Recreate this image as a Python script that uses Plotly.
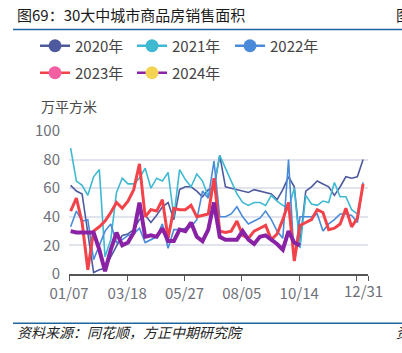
import pandas as pd
import plotly.graph_objects as go

# ---------------- data ----------------
week_dates = pd.date_range("2024-01-09", periods=52, freq="7D")

s2020 = [62, 58, 56, 30, 1, 3, 4, 12, 20, 27, 28, 31, 38, 41, 36, 41, 47, 50, 38, 59,
         61, 61, 58, 54, 59, 60, 83, 61, 60, 59, 58, 57, 59, 58, 57, 56, 52, 59, 68, 61,
         22, 58, 61, 65, 63, 61, 55, 61, 68, 67, 68, 80]
s2021 = [88, 65, 62, 55, 68, 73, 12, 24, 57, 67, 63, 63, 67, 74, 60, 67, 65, 71, 40, 73,
         66, 61, 70, 65, 54, 62, 83, 74, 65, 56, 50, 48, 50, 50, 48, 55, 51, 48, 46, 60,
         18, 55, 49, 48, 51, 50, 64, 54, 54, 45, 42, 62]
s2022 = [33, 44, 37, 38, 10, 20, 30, 35, 22, 24, 27, 28, 32, 22, 24, 26, 35, 18, 31, 31,
         32, 33, 38, 58, 53, 79, 40, 40, 42, 47, 40, 35, 37, 39, 44, 38, 30, 25, 80, 10,
         40, 40, 40, 42, 30, 35, 38, 42, 42, 41, 36, 64]
s2023 = [44, 53, 36, 3, 30, 33, 37, 43, 50, 46, 51, 59, 77, 40, 45, 44, 52, 25, 46, 45,
         45, 48, 40, 41, 42, 67, 30, 29, 30, 37, 27, 25, 30, 32, 34, 24, 28, 38, 50, 9,
         34, 36, 38, 45, 43, 31, 32, 35, 46, 33, 39, 63]
s2024 = [30, 29, 29, 29, 29, 17, 2, 17, 29, 20, 22, 29, 50, 26, 27, 26, 32, 23, 23, 31,
         30, 36, 26, 23, 31, 50, 26, 24, 24, 24, 30, 24, 21, 26, 27, 24, 21, 17, 30, 22,
         20]

series_names = ["2020年", "2021年", "2022年", "2023年", "2024年"]
series_values = [s2020, s2021, s2022, s2023, s2024]

x_tick_dates = ["2024-01-07", "2024-03-18", "2024-05-27", "2024-08-05", "2024-10-14",
                "2024-12-23", "2025-01-06"]
x_tick_labels = ["01/07", "03/18", "05/27", "08/05", "10/14", "", ""]
last_label_date = "2024-12-31"
last_label = "12/31"
y_ticks = [0, 20, 40, 60, 80, 100]

# ---------------- style ----------------
line_colors = ["#4d5a9e", "#3fb9d2", "#4a8bd9", "#f3434a", "#8a22a6"]
marker_colors = ["#4d5a9e", "#3fb9d2", "#4a8bd9", "#f45ea2", "#f3d452"]
line_widths = [1.6, 1.6, 1.6, 3, 4]
legend_ids = ["legend", "legend2", "legend3", "legend4", "legend5"]
legend_px = [(35, 46), (132, 46), (230, 46), (35, 73), (132, 73)]

CJK = "Noto Sans CJK SC"
W, H = 402, 353

fig = go.Figure()
for name, vals, lc, lw in zip(series_names, series_values, line_colors, line_widths):
    fig.add_trace(go.Scatter(
        x=week_dates[:len(vals)], y=vals, mode="lines", name=name,
        line=dict(color=lc, width=lw), showlegend=False, hoverinfo="skip"))

for name, lc, mc, lg in zip(series_names, line_colors, marker_colors, legend_ids):
    fig.add_trace(go.Scatter(
        x=[None], y=[None], mode="lines+markers", name=name, legend=lg,
        line=dict(color=lc, width=2.5),
        marker=dict(color=mc, size=13, symbol="circle"), showlegend=True))

legend_common = dict(orientation="h", xref="container", yref="container",
                     xanchor="left", yanchor="middle",
                     font=dict(family=CJK, size=15, color="#444"),
                     bgcolor="rgba(0,0,0,0)", itemclick=False)

legends = {}
for lg, (lx, ly) in zip(legend_ids, legend_px):
    legends[lg] = dict(legend_common, x=lx / W, y=1 - ly / H)

fig.update_layout(
    width=W, height=H,
    margin=dict(l=69, r=34, t=131, b=79),
    plot_bgcolor="white", paper_bgcolor="white",
    showlegend=True,
    **legends,
    xaxis=dict(
        type="date", range=["2024-01-07", "2025-01-06"],
        tickvals=x_tick_dates, ticktext=x_tick_labels,
        ticks="outside", ticklen=5, tickwidth=1.3, tickcolor="#555",
        showline=True, linecolor="#555", linewidth=1.5,
        showgrid=False, zeroline=False,
        tickfont=dict(family=CJK, size=15, color="#6e7079"),
    ),
    yaxis=dict(
        range=[0, 100], tickvals=y_ticks,
        showgrid=True, gridcolor="#e2e4ed", gridwidth=1.5,
        zeroline=False, showline=False, ticks="",
        ticklabelstandoff=8,
        tickfont=dict(family=CJK, size=15, color="#6e7079"),
    ),
)

# convert pixel positions to paper coordinates for the page-level items
pl, pr, pt, pb = 69, 34, 131, 79
pw, ph = W - pl - pr, H - pt - pb


def px2paper(px, py):
    return (px - pl) / pw, 1 - (py - pt) / ph


# last date label (between the final ticks, as in the reference)
fig.add_annotation(x=last_label_date, xref="x", y=0, yref="paper", yshift=-16,
                   text=last_label, showarrow=False, xanchor="center", yanchor="middle",
                   font=dict(family=CJK, size=15, color="#6e7079"))

page_texts = [
    ("万平方米", 39, 106, 14, "#4a4a4a"),
    ("图69：30大中城市商品房销售面积", 15, 15, 15, "#1a1a1a"),
    ("图", 394, 15, 15, "#1a1a1a"),
    ("<i>资料来源：同花顺，方正中期研究院</i>", 15, 332, 14, "#222"),
    ("<i>资</i>", 394, 332, 14, "#222"),
]
for txt, px, py, fs, col in page_texts:
    ax, ay = px2paper(px, py)
    fig.add_annotation(text=txt, xref="paper", yref="paper", x=ax, y=ay,
                       showarrow=False, xanchor="left", yanchor="middle",
                       font=dict(family=CJK, size=fs, color=col))

for py in (29.5, 323.3):
    x0, y0 = px2paper(13, py)
    x1, _ = px2paper(W + 2, py)
    fig.add_shape(type="line", xref="paper", yref="paper", x0=x0, x1=x1, y0=y0, y1=y0,
                  line=dict(color="#1f659e", width=1.5))

fig.write_html("out.html")
